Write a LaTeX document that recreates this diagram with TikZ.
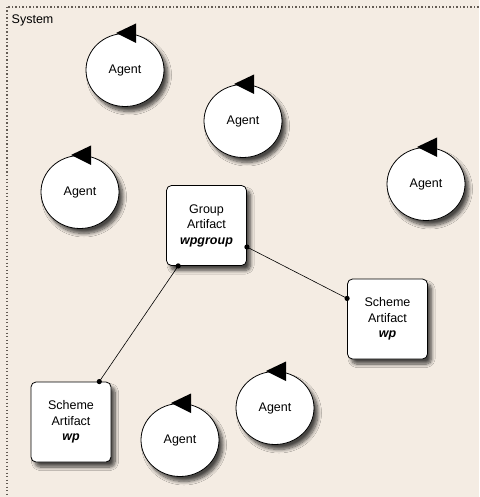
\documentclass[tikz,border=0pt]{standalone}
\usepackage{fontspec}
\setmainfont{Liberation Sans}
\usetikzlibrary{shapes.geometric,shadows.blur}
\definecolor{paper}{RGB}{244,236,227}
\definecolor{framegray}{RGB}{100,92,84}
\begin{document}
\begin{tikzpicture}[x=1pt,y=-1pt,
  every node/.style={font=\fontsize{12.5}{15.5}\selectfont},
  softshadow/.style={blur shadow={shadow xshift=4pt, shadow yshift=-5pt,
      shadow blur steps=8, shadow blur radius=3.5pt, shadow opacity=70}},
  agent/.style={ellipse, draw, line width=0.8pt, fill=white,
      minimum width=78pt, minimum height=73pt, inner sep=0pt, softshadow},
  artifact/.style={rectangle, rounded corners=5pt, draw, line width=0.8pt,
      fill=white, minimum width=80pt, minimum height=80pt, inner sep=0pt,
      align=center, softshadow},
  link/.style={draw, line width=0.6pt},
  linkdot/.style={fill},
  frameline/.style={draw=framegray, line width=1.1pt, dash pattern=on 1.2pt off 2.3pt},
]
\useasboundingbox (0,0) rectangle (479,497);
\clip (0,0) rectangle (479,497);
\fill[paper] (0,0) rectangle (479,497);

% system frame (runs past the right and bottom edges)
\draw[frameline] (7,7) rectangle (520,540);
\node[anchor=west, inner sep=0.5pt] (sys) at (11,20) {System};

% agents
\node[agent] (a1) at (125,70)  {Agent};
\node[agent] (a2) at (243,121) {Agent};
\node[agent] (a3) at (80,192)  {Agent};
\node[agent] (a4) at (426,184) {Agent};
\node[agent] (a5) at (275,408) {Agent};
\node[agent] (a6) at (180,440) {Agent};

% cycle arrowheads on top of each agent
\foreach \ag in {a1,a2,a3,a4,a5,a6}
  \fill[shift={(\ag.center)}] (-9,-37) -- (11,-46.5) -- (11,-27) -- cycle;

% artifacts
\node[artifact] (grp)  at (206.5,225.5) {Group\\Artifact\\\textbf{\textit{wpgroup}}};
\node[artifact] (schR) at (387.5,319)   {Scheme\\Artifact\\\textbf{\textit{wp}}};
\node[artifact] (schL) at (71,422)      {Scheme\\Artifact\\\textbf{\textit{wp}}};

% links between artifacts
\draw[link] (grp.-28) -- (schR.153);
\draw[link] (grp.-125) -- (schL.55);
\foreach \p in {grp.-28, schR.153, grp.-125, schL.55}
  \fill[linkdot] (\p) circle[radius=2.6pt];
\end{tikzpicture}
\end{document}
